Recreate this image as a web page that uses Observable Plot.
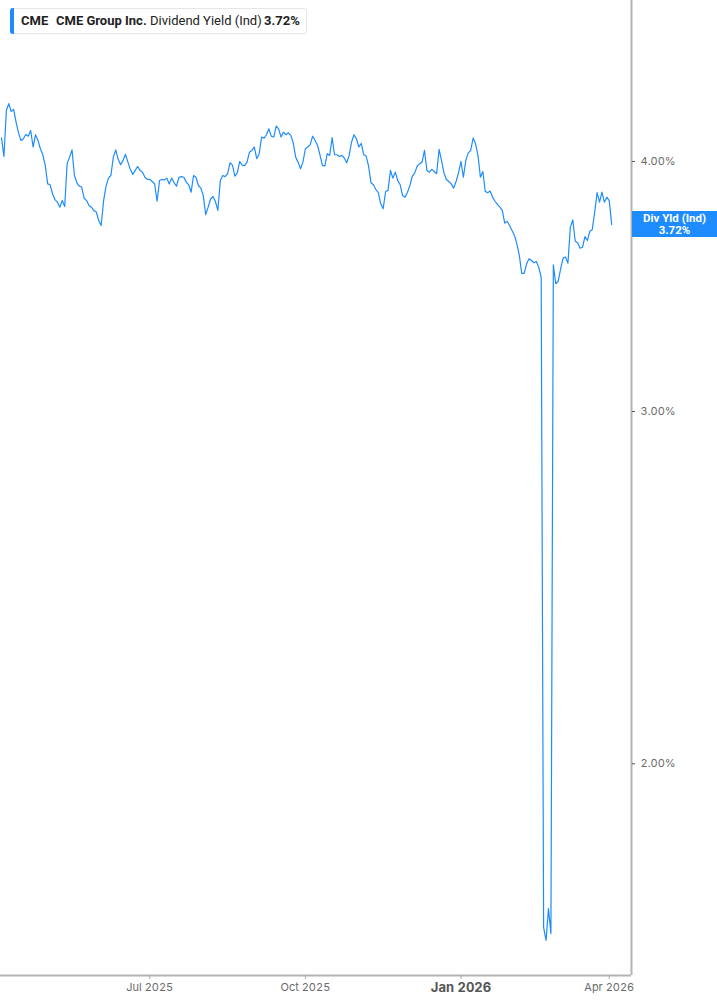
<!DOCTYPE html>
<html>
<head>
<meta charset="utf-8">
<script src="https://cdn.jsdelivr.net/npm/d3@7"></script>
<script src="https://cdn.jsdelivr.net/npm/@observablehq/plot@0.6"></script>
<style>
  html, body { margin: 0; padding: 0; background: #fff; }
  #wrap { position: relative; width: 717px; height: 1005px; font-family: Inter, "Noto Sans", sans-serif; }
  #legend { position: absolute; left: 10px; top: 8px; width: 295px; height: 24px; border: 1px solid #e6e6e6; border-radius: 3px; background: #fff; box-sizing: content-box; }
  #legend .bar { position: absolute; left: -1px; top: -1px; bottom: -1px; width: 4px; background: #1e8cff; border-radius: 3px 0 0 3px; }
  #legend span { position: absolute; top: 0; line-height: 24px; font-size: 13px; font-family: Roboto, Inter, sans-serif; color: #222; white-space: nowrap; }
  #badge { position: absolute; left: 632px; width: 85px; height: 26px; background: #1e8cff; color: #fff; font-weight: bold; font-size: 11.5px; line-height: 12px; text-align: center; display: flex; flex-direction: column; justify-content: center; font-family: Roboto, Inter, sans-serif; }
</style>
</head>
<body>
<div id="wrap">
  <div id="chart"></div>
  <div id="legend"><div class="bar"></div></div>
  <div id="badge"></div>
</div>
<script>
// Dividend yield (%) — one value per trading day, Apr 2 2025 .. Apr 2 2026
const values = [
4.110,4.023,4.242,4.275,4.237,4.247,4.185,4.134,4.098,4.106,
4.126,4.118,4.145,4.067,4.125,4.098,4.059,4.031,3.982,3.898,
3.894,3.854,3.828,3.817,3.795,3.824,3.798,3.990,4.020,4.054,
3.936,3.903,3.888,3.884,3.834,3.824,3.802,3.795,3.780,3.774,
3.737,3.716,3.824,3.888,3.924,3.936,4.020,4.054,4.010,3.985,
4.005,4.033,3.997,3.964,3.941,3.959,3.977,3.959,3.951,3.928,
3.918,3.918,3.909,3.898,3.821,3.913,3.918,3.916,3.924,3.898,
3.924,3.903,3.888,3.928,3.931,3.928,3.906,3.894,3.861,3.936,
3.928,3.891,3.879,3.846,3.763,3.795,3.831,3.842,3.820,3.781,
3.913,3.936,3.931,3.944,3.994,3.983,3.933,3.948,4.000,3.983,
3.981,3.997,4.043,4.051,4.067,4.013,4.036,4.114,4.109,4.125,
4.153,4.118,4.114,4.166,4.153,4.114,4.137,4.125,4.134,4.122,
4.087,4.020,3.997,3.967,3.997,4.059,4.067,4.078,4.118,4.098,
4.075,4.031,3.982,3.979,4.036,4.028,4.111,4.031,4.031,4.023,
4.028,4.016,3.994,4.028,4.090,4.125,4.106,4.067,4.084,4.031,
4.025,3.979,3.903,3.894,3.873,3.859,3.810,3.788,3.864,3.869,
3.959,3.924,3.951,3.913,3.894,3.846,3.839,3.861,3.891,3.933,
3.948,3.979,3.990,3.997,4.051,3.959,3.951,3.964,3.954,3.944,
4.056,4.005,3.948,3.918,3.909,3.898,3.879,3.909,3.948,4.000,
3.928,4.005,4.040,4.051,4.109,4.082,4.028,3.928,3.954,3.864,
3.859,3.866,3.839,3.821,3.807,3.795,3.781,3.726,3.734,3.716,
3.695,3.674,3.638,3.590,3.517,3.517,3.555,3.576,3.569,3.560,
3.565,3.541,3.501,1.657,1.632,1.693,1.645,3.551,3.475,3.485,
3.535,3.579,3.583,3.558,3.709,3.740,3.649,3.643,3.620,3.624,
3.669,3.652,3.691,3.698,3.772,3.859,3.817,3.861,3.817,3.839,
3.824,3.720
];
// trading-day index of tick positions
const tickDays = [61, 125, 189, 250];
const tickLabels = ["Jul 2025", "Oct 2025", "Jan 2026", "Apr 2026"];
const boldTickDays = [189];
const yTicks = [2, 3, 4];
const yTickLabels = ["2.00%", "3.00%", "4.00%"];
const xDomain = [-0.41, 259.15];
const yDomain = [1.5676, 4.814];
const lineColor = "#1e8cff";
const lastValue = values[values.length - 1];
const legendItems = [
  {text: "CME", left: 10, bold: true},
  {text: "CME Group Inc.", left: 45, bold: true},
  {text: "Dividend Yield (Ind)", left: 139, bold: false},
  {text: lastValue.toFixed(2) + "%", left: 253, bold: true}
];

const data = values.map((v, i) => ({i, v}));
const labelOf = d => tickLabels[tickDays.indexOf(d)];

const chart = Plot.plot({
  width: 717,
  height: 1005,
  marginLeft: 0,
  marginRight: 86,
  marginTop: 0,
  marginBottom: 30,
  style: {color: "#666", fontFamily: "Inter, 'Noto Sans', sans-serif", fontSize: "11px", background: "white", overflow: "visible"},
  x: {type: "linear", domain: xDomain, label: null},
  y: {type: "log", domain: yDomain, label: null},
  marks: [
    Plot.line(data, {x: "i", y: "v", stroke: lineColor, strokeWidth: 1.2}),
    Plot.ruleY([yDomain[0]], {stroke: "#b4b4b4", strokeWidth: 2}),
    Plot.ruleX([xDomain[1]], {stroke: "#b4b4b4", strokeWidth: 2}),
    Plot.axisX({ticks: tickDays.filter(d => !boldTickDays.includes(d)), tickFormat: labelOf, tickSize: 4, tickPadding: 4, stroke: "#aaa", fill: "#6b6b6b", fontSize: 11, label: null}),
    Plot.axisX({ticks: boldTickDays, tickFormat: labelOf, tickSize: 4, tickPadding: 3, stroke: "#aaa", fill: "#555", fontSize: 13, fontWeight: "bold", label: null}),
    Plot.axisY({anchor: "right", ticks: yTicks, tickFormat: d => yTickLabels[yTicks.indexOf(d)], tickSize: 3, tickPadding: 6, stroke: "#555", fill: "#6b6b6b", fontSize: 11, label: null})
  ]
});
document.getElementById("chart").appendChild(chart);

const legend = document.getElementById("legend");
for (const it of legendItems) {
  const s = document.createElement("span");
  s.textContent = it.text;
  s.style.left = it.left + "px";
  s.style.fontWeight = it.bold ? "bold" : "normal";
  legend.appendChild(s);
}

const badge = document.getElementById("badge");
badge.innerHTML = "<div>Div Yld (Ind)</div><div>" + lastValue.toFixed(2) + "%</div>";
const yPos = chart.scale("y").apply(lastValue);
badge.style.top = (yPos - 13) + "px";
</script>
</body>
</html>
